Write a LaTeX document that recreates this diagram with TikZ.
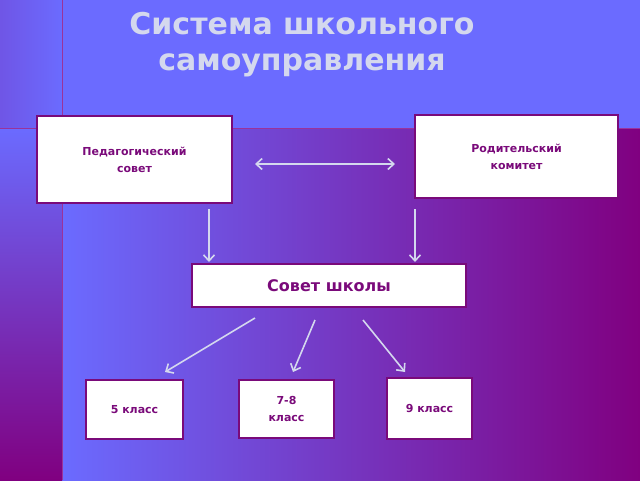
\documentclass[tikz,border=0pt]{standalone}
\usepackage{fontspec}
\setmainfont{DejaVu Sans}
\usetikzlibrary{arrows.meta}
\definecolor{bgblue}{HTML}{6B6BFF}
\definecolor{bgpurp}{HTML}{800080}
\definecolor{txtp}{HTML}{7A0A7A}
\definecolor{ttl}{HTML}{D4D8EE}
\begin{document}
\begin{tikzpicture}[x=1pt,y=-1pt,
 box/.style={draw=txtp,line width=1.2pt,fill=white,text=txtp,font=\bfseries\fontsize{11}{17}\selectfont,align=center,inner sep=0pt},
 conn/.style={draw=ttl,line width=1.6pt,-{Straight Barb[length=6pt,width=11pt]}},
 conn2/.style={draw=ttl,line width=1.6pt,{Straight Barb[length=6pt,width=11pt]}-{Straight Barb[length=6pt,width=11pt]}}]
\useasboundingbox (0,0) rectangle (640,480);
\shade[left color=bgblue,right color=bgpurp] (62,128) rectangle (640,480);
\shade[top color=bgblue,bottom color=bgpurp] (0,128) rectangle (62,480);
\fill[bgblue] (0,0) rectangle (640,128);
\shade[left color=bgblue!80!bgpurp,right color=bgblue] (0,0) rectangle (62,128);
\draw[bgpurp!80,line width=0.8pt] (62,0) -- (62,480);
\draw[bgpurp!80,line width=0.8pt] (0,128) -- (640,128);
\node[text=ttl,font=\bfseries\fontsize{30}{36}\selectfont,align=center] (title) at (302,45) {Система школьного\\самоуправления};
\node[box,minimum width=195pt,minimum height=87pt] (ped) at (134.5,159.5) {Педагогический\\совет};
\node[box,minimum width=203pt,minimum height=83pt] (rod) at (516.5,156.5) {Родительский\\комитет};
\node[box,minimum width=274pt,minimum height=43pt,font=\bfseries\fontsize{16}{20}\selectfont] (sov) at (329,285.5) {Совет школы};
\node[box,minimum width=97pt,minimum height=59pt] (k5) at (134.5,409.5) {5 класс};
\node[box,minimum width=95pt,minimum height=58pt] (k78) at (286.5,409) {7-8\\класс};
\node[box,minimum width=85pt,minimum height=61pt] (k9) at (429.5,408.5) {9 класс};
\coordinate (a1) at (255,164); \coordinate (a2) at (395,164);
\coordinate (b1) at (209,209); \coordinate (b2) at (209,262);
\coordinate (c1) at (415,209); \coordinate (c2) at (415,262);
\coordinate (d1) at (255,318); \coordinate (d2) at (165,372);
\coordinate (e1) at (315,320); \coordinate (e2) at (293,372);
\coordinate (f1) at (363,320); \coordinate (f2) at (405,372);
\draw[conn2] (a1) -- (a2);
\draw[conn] (b1) -- (b2);
\draw[conn] (c1) -- (c2);
\draw[conn] (d1) -- (d2);
\draw[conn] (e1) -- (e2);
\draw[conn] (f1) -- (f2);
\end{tikzpicture}
\end{document}
